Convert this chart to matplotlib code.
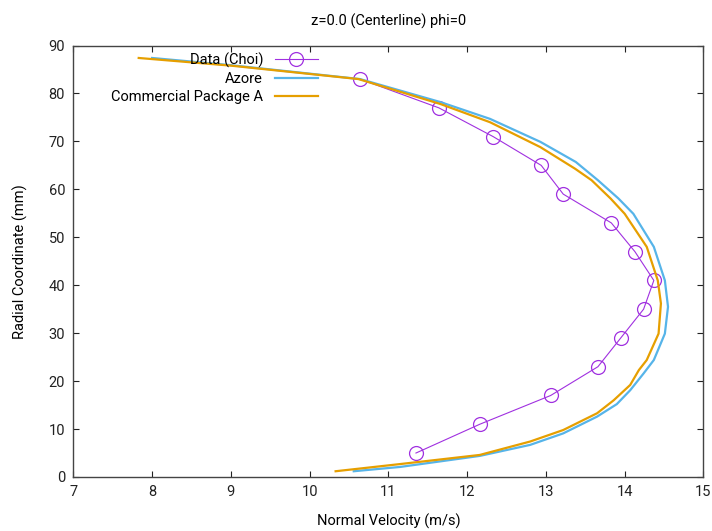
import numpy as np
import matplotlib
matplotlib.use("Agg")
import matplotlib.pyplot as plt

plt.rcParams['font.family'] = ['Roboto', 'DejaVu Sans']
plt.rcParams['font.size'] = 10.5

# measured data (Choi)
choi_y = [5, 11, 17, 23, 29, 35, 41, 47, 53, 59, 65, 71, 77, 83]
choi_v = [11.35, 12.16, 13.06, 13.66, 13.95, 14.24, 14.37, 14.13, 13.83, 13.22, 12.94, 12.33, 11.64, 10.64]

# Azore profile
azore_y = [1.2, 2.1, 4.4, 6.7, 9.1, 12.6, 15.2, 18.1, 21.6, 24.4, 29.9, 35.5, 41.0, 48.0, 54.9,
           58.1, 61.9, 65.7, 69.9, 74.7, 78.2, 83.0, 85.9, 87.4]
azore_v = [10.56, 11.15, 12.16, 12.8, 13.22, 13.65, 13.9, 14.07, 14.24, 14.37, 14.51, 14.55, 14.51,
           14.37, 14.11, 13.92, 13.66, 13.38, 12.93, 12.29, 11.66, 10.64, 9.0, 8.0]

# Commercial Package A profile
comm_y = [1.2, 2.7, 4.6, 7.4, 9.8, 13.3, 16.0, 19.2, 22.3, 24.4, 29.9, 36.2, 41.0, 48.0, 54.9,
          58.1, 61.9, 64.3, 68.8, 74.0, 77.8, 83.0, 85.8, 87.4]
comm_v = [10.33, 11.15, 12.16, 12.8, 13.22, 13.65, 13.86, 14.07, 14.18, 14.28, 14.43, 14.46, 14.42,
          14.28, 14.0, 13.82, 13.58, 13.37, 12.93, 12.29, 11.66, 10.62, 9.0, 7.83]

fig = plt.figure(figsize=(7.12, 5.31), dpi=100)
ax = fig.add_axes([0.103, 0.1017, 0.885, 0.8126])

ax.plot(choi_v, choi_y, color='#a030e0', lw=0.8, marker='o', ms=10, mfc='none', mew=0.9,
        label='Data (Choi)')
ax.plot(azore_v, azore_y, color='#56b4e9', lw=1.6, label='Azore')
ax.plot(comm_v, comm_y, color='#e69f00', lw=1.6, label='Commercial Package A')

ax.set_xlim(7, 15)
ax.set_ylim(0, 90)
ax.set_xticks(np.arange(7, 16, 1))
ax.set_yticks(np.arange(0, 100, 10))
ax.tick_params(direction='in', top=True, right=True, length=4, width=0.8, pad=6, colors='#222222')
for s in ax.spines.values():
    s.set_color('#444444')
    s.set_linewidth(1.0)

ax.set_title('z=0.0 (Centerline) phi=0', fontsize=10.5, pad=14)
ax.set_xlabel('Normal Velocity (m/s)', labelpad=10)
ax.set_ylabel('Radial Coordinate (mm)', labelpad=15)

# gnuplot-style key: labels right aligned, sample after the text
ax.legend(loc='upper right', bbox_to_anchor=(0.388, 0.984), frameon=False, markerfirst=False,
          numpoints=1, handlelength=2.95, handletextpad=0.8, labelspacing=0.3,
          borderaxespad=0, borderpad=0)

plt.savefig('out.png', dpi=100)
